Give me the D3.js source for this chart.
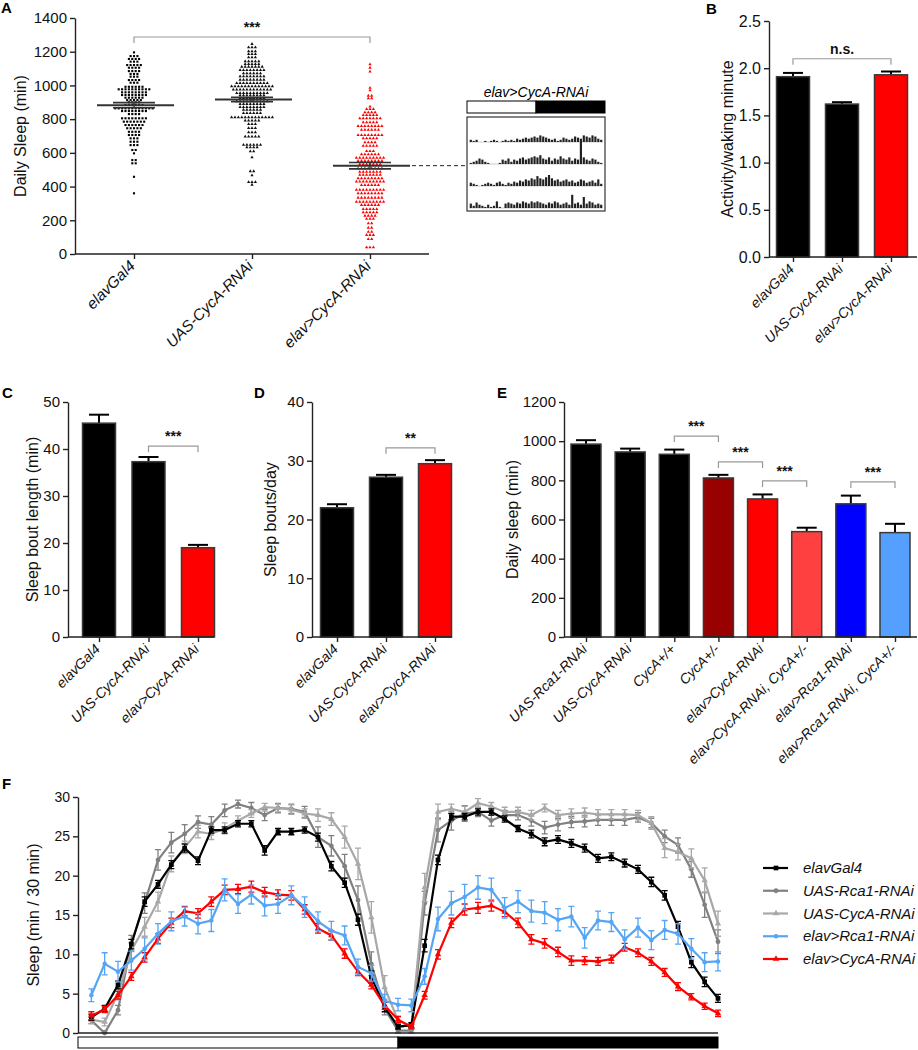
<!DOCTYPE html>
<html><head><meta charset="utf-8">
<script src="https://cdn.jsdelivr.net/npm/d3@7"></script>
<style>body{margin:0;background:#fff;} svg{display:block;font-family:"Liberation Sans",Arial,sans-serif;}</style>
</head><body><svg id="c" width="918" height="1050"></svg>
<script>
// ---------------- DATA ----------------
// Panel A: beeswarm rows [value (min), number of flies in row]
const aCats = ["elavGal4", "UAS-CycA-RNAi", "elav>CycA-RNAi"];
const aRowsElav = [[1196,1],[1174,3],[1157,4],[1141,3],[1121,5],[1105,4],[1085,4],[1068,3],[1052,3],[1032,4],[1016,3],[992,6],[977,10],[959,8],[943,8],[927,6],[913,5],[900,4],[884,6],[864,12],[848,8],[830,4],[805,8],[785,7],[765,6],[746,5],[725,4],[706,4],[686,3],[666,3],[646,3],[617,2],[597,1],[557,2],[538,2],[458,1],[360,1]];
const aRowsUas = [[1246,1],[1226,3],[1202,3],[1186,3],[1167,3],[1143,5],[1127,5],[1111,7],[1091,8],[1072,6],[1054,8],[1034,8],[1014,10],[995,13],[975,12],[955,10],[941,8],[925,8],[906,10],[890,8],[872,8],[856,6],[836,6],[811,13],[791,5],[771,3],[747,3],[722,3],[696,5],[648,6],[633,4],[609,2],[574,1],[491,2],[467,1],[427,3],[411,1]];
const aRowsKd = [[1125,1],[1105,1],[1082,1],[986,1],[971,1],[939,2],[923,2],[874,1],[860,3],[840,4],[824,5],[805,7],[781,5],[759,8],[736,6],[706,8],[686,5],[662,4],[642,5],[611,3],[591,6],[571,9],[552,8],[532,7],[508,8],[488,7],[469,7],[449,8],[429,9],[409,6],[380,9],[360,8],[334,8],[310,9],[291,6],[267,5],[247,5],[227,4],[208,3],[182,2],[156,2],[132,2],[113,3],[89,2],[40,3]];
const aMeans = [883, 917, 524];
const aSem = [15, 13, 19];
const aTicks = [0,200,400,600,800,1000,1200,1400];

// Inset actogram (elav>CycA-RNAi), 4 days, activity per bin
const actoDay1 = [2,1,2,0,0,1,0,1,2,1,0,1,2,1,2,1,3,2,3,4,3,4,5,4,6,5,4,3,2,3,1,2,4,3,2,3,5,4,3,6,5,4,6,5,3,2];
const actoDay2 = [1,2,3,5,4,2,1,0,0,0,1,4,3,5,2,4,3,5,6,4,5,6,7,6,8,5,4,6,3,5,4,7,5,4,6,3,5,4,20,6,4,3,5,4,2,1];
const actoDay3 = [3,2,1,0,1,2,3,2,1,3,4,2,1,3,2,4,3,5,4,6,5,7,6,9,7,6,8,10,7,5,6,4,5,6,4,5,3,4,6,5,3,4,5,3,6,2];
const actoDay4 = [4,2,5,3,2,1,3,1,2,6,1,0,4,5,4,3,5,4,6,5,4,6,5,6,5,4,3,5,4,6,5,3,4,5,3,12,4,5,3,10,4,6,5,3,4,3];

// Panel B
const bCats = ["elavGal4", "UAS-CycA-RNAi", "elav>CycA-RNAi"];
const bVals = [1.91, 1.62, 1.93];
const bErrs = [0.04, 0.02, 0.035];
const bTicks = [0, 0.5, 1.0, 1.5, 2.0, 2.5];

// Panel C
const cCats = ["elavGal4", "UAS-CycA-RNAi", "elav>CycA-RNAi"];
const cVals = [45.5, 37.3, 19.0];
const cErrs = [1.8, 1.0, 0.6];
const cTicks = [0,10,20,30,40,50];

// Panel D
const dCats = ["elavGal4", "UAS-CycA-RNAi", "elav>CycA-RNAi"];
const dVals = [22.0, 27.2, 29.5];
const dErrs = [0.6, 0.4, 0.6];
const dTicks = [0,10,20,30,40];

// Panel E
const eCats = ["UAS-Rca1-RNAi", "UAS-CycA-RNAi", "CycA+/+", "CycA+/-", "elav>CycA-RNAi", "elav>CycA-RNAi, CycA+/-", "elav>Rca1-RNAi", "elav>Rca1-RNAi, CycA+/-"];
const eVals = [985, 945, 933, 812, 705, 538, 680, 533];
const eErrs = [20, 17, 24, 16, 23, 20, 42, 45];
const eColors = ["#000000","#000000","#000000","#990000","#ff0000","#ff4040","#0000ff","#55a0ff"];
const eTicks = [0,200,400,600,800,1000,1200];

// Panel F: sleep per 30 min bin (48 bins)
const fNames = ["elavGal4", "UAS-Rca1-RNAi", "UAS-CycA-RNAi", "elav>Rca1-RNAi", "elav>CycA-RNAi"];
const fElav = [2.0,3.1,6.1,11.3,16.7,18.9,21.4,23.5,21.9,25.8,25.8,26.6,26.6,23.2,25.6,25.6,25.8,24.9,21.2,19.1,14.4,7.1,3.3,0.8,
               1.0,11.1,22.0,27.5,27.5,28.1,28.1,27.2,26.0,25.3,24.3,24.6,24.1,23.5,22.2,22.4,21.6,20.8,19.2,17.5,13.5,9.0,6.5,4.4];
const fUasRca1 = [1.6,0.0,2.9,11.4,16.5,22.0,24.2,25.3,26.8,26.5,28.3,29.1,28.6,27.7,28.6,28.5,28.1,24.9,23.8,21.2,16.9,8.8,3.1,0.3,
                  0.3,16.5,25.8,27.0,27.9,28.1,27.0,27.7,27.7,27.0,26.1,26.5,26.8,26.9,27.1,27.1,27.1,27.4,26.7,25.0,23.9,20.8,16.3,11.6];
const fUasCycA = [1.7,1.4,5.0,10.5,13.5,16.7,21.5,23.6,25.6,25.3,26.0,27.0,27.9,28.7,28.6,28.4,27.9,27.7,27.2,24.9,21.5,14.7,5.8,1.6,
                  0.8,18.5,28.1,28.5,28.1,29.2,28.8,28.1,28.1,27.7,28.6,27.7,27.9,28.0,27.8,27.8,27.8,27.7,26.7,23.5,23.0,22.2,19.4,13.9];
const fKdRca1 = [4.8,8.8,7.8,9.2,10.7,12.6,14.2,14.8,13.9,14.3,18.2,16.4,17.6,16.2,16.4,17.5,16.0,14.2,13.0,12.4,8.4,7.6,4.1,3.6,
                 3.5,7.2,14.5,16.5,17.3,18.5,18.2,15.9,16.7,15.5,15.3,14.4,14.8,12.1,14.3,14.1,11.9,13.4,11.8,13.1,12.6,10.7,9.0,9.1];
const fKdCycA = [2.2,3.0,4.8,7.2,9.6,12.0,14.0,15.5,15.2,16.7,18.2,18.3,18.6,17.9,17.6,17.5,15.7,13.3,12.4,10.1,7.8,6.1,3.5,1.7,
                 0.8,4.8,10.0,14.0,15.7,15.9,16.2,15.4,14.0,11.9,11.4,10.3,9.2,9.2,9.1,9.4,10.9,10.2,9.1,7.7,5.9,4.6,3.4,2.5];
const fErrElav = [0.4,0.4,0.5,0.6,0.6,0.5,0.5,0.5,0.5,0.4,0.4,0.4,0.4,0.6,0.4,0.4,0.4,0.5,0.6,0.6,0.7,0.8,0.6,0.3,
                  0.3,0.8,0.6,0.4,0.4,0.4,0.4,0.4,0.4,0.5,0.5,0.5,0.5,0.5,0.5,0.5,0.5,0.5,0.6,0.6,0.7,0.7,0.6,0.5];
const fErrUasRca1 = [0.4,0.3,0.6,1.0,1.3,1.3,1.3,1.2,0.8,1.0,0.8,0.5,0.7,0.7,0.6,0.6,0.7,1.3,1.3,1.5,1.8,1.5,0.8,0.3,
                     0.3,1.5,1.5,1.2,1.0,0.6,0.7,0.6,0.6,0.7,0.8,0.8,0.7,0.7,0.7,0.7,0.7,0.6,0.6,0.8,0.9,1.0,1.6,1.5];
const fErrUasCycA = [0.5,0.5,0.8,1.0,1.2,1.2,1.0,0.8,0.8,0.7,0.7,0.6,0.5,0.5,0.5,0.6,0.6,0.8,0.8,1.4,2.0,2.0,1.5,0.5,
                     0.4,1.8,1.0,0.6,0.7,0.6,0.5,0.6,0.6,0.6,0.5,0.6,0.6,0.6,0.6,0.6,0.6,0.6,0.8,1.2,1.0,1.2,1.6,1.6];
const fErrKdRca1 = [0.8,1.4,1.3,1.2,1.4,1.3,1.2,1.2,1.3,1.4,1.4,1.2,1.2,1.3,1.2,1.2,1.3,1.2,1.2,1.2,1.0,1.0,0.8,0.8,
                    0.8,1.0,1.5,1.5,1.6,1.5,1.5,1.3,1.4,1.4,1.4,1.4,1.3,1.3,1.2,1.2,1.2,1.2,1.2,1.2,1.3,1.3,1.2,1.2];
const fErrKdCycA = [0.5,0.4,0.5,0.5,0.6,0.6,0.6,0.6,0.6,0.6,0.6,0.6,0.7,0.6,0.6,0.6,0.6,0.6,0.6,0.6,0.5,0.5,0.5,0.4,
                    0.3,0.5,0.6,0.6,0.7,0.7,0.7,0.6,0.6,0.6,0.6,0.6,0.6,0.5,0.5,0.5,0.5,0.5,0.5,0.5,0.5,0.4,0.4,0.4];
const fTicks = [0,5,10,15,20,25,30];
const fLightDark = [["light",0,24],["dark",24,48]];

// ---------------- DRAWING ----------------
const svg = d3.select("#c");
const AX = "#222";

function yAxis(g, scale, x, ticks, fmt, fs) {
  const a = g.append("g").attr("transform", `translate(${x},0)`)
    .call(d3.axisLeft(scale).tickValues(ticks).tickSize(5).tickSizeOuter(0).tickPadding(3).tickFormat(fmt));
  a.select(".domain").attr("stroke", AX).attr("stroke-width", 1.4);
  a.selectAll(".tick line").attr("stroke", AX).attr("stroke-width", 1.4);
  a.selectAll(".tick text").attr("font-size", fs).attr("fill", "#111")
    .attr("font-family", '"Liberation Sans",Arial,sans-serif');
  return a;
}
function xAxis(g, scale, y, x0, x1, fs, labelDy) {
  g.append("line").attr("x1", x0).attr("x2", x1).attr("y1", y).attr("y2", y)
    .attr("stroke", AX).attr("stroke-width", 1.4);
  const a = g.append("g").attr("transform", `translate(0,${y})`)
    .call(d3.axisBottom(scale).tickSize(5).tickFormat(""));
  a.select(".domain").remove();
  a.selectAll(".tick line").attr("stroke", AX).attr("stroke-width", 1.4);
  g.selectAll(null).data(scale.domain()).enter().append("text")
    .attr("transform", d => `translate(${scale(d) + 2},${y + labelDy}) rotate(-45)`)
    .attr("text-anchor", "end").attr("font-size", fs).attr("font-style", "italic").attr("fill", "#111")
    .text(d => d);
}
function yLabel(g, text, x, yc, fs) {
  g.append("text").attr("transform", `translate(${x},${yc}) rotate(-90)`)
    .attr("text-anchor", "middle").attr("dy", "0.35em").attr("font-size", fs).attr("fill", "#111").text(text);
}
function letter(t, x, y) {
  svg.append("text").attr("x", x).attr("y", y).attr("font-size", 15).attr("font-weight", "bold").text(t);
}
function bracket(g, x1, x2, y, label, fs) {
  g.append("path").attr("d", `M${x1},${y + 6}V${y}H${x2}V${y + 6}`)
    .attr("fill", "none").attr("stroke", "#999").attr("stroke-width", 1.2);
  g.append("text").attr("x", (x1 + x2) / 2).attr("y", y - 5).attr("text-anchor", "middle")
    .attr("font-size", fs).attr("font-weight", "bold").attr("fill", "#111").text(label);
}

// ---- Panel A ----
(function () {
  const g = svg.append("g");
  const y = d3.scaleLinear().domain([0, 1400]).range([254, 18]);
  const x = d3.scalePoint().domain(aCats).range([134, 370]);
  const groups = [aRowsElav, aRowsUas, aRowsKd];
  const cols = ["#000", "#111", "#ff0000"];
  const sym = [d3.symbolSquare, d3.symbolTriangle, d3.symbolTriangle];
  groups.forEach((rows, gi) => {
    const pts = [];
    rows.forEach(([v, n]) => { for (let j = 0; j < n; j++) pts.push({ v, off: (j - (n - 1) / 2) * 3.4 }); });
    g.selectAll(null).data(pts).enter().append("path")
      .attr("d", d3.symbol().type(sym[gi]).size(gi === 0 ? 4.5 : 4.5))
      .attr("transform", d => `translate(${x(aCats[gi]) + d.off},${y(d.v)})`)
      .attr("fill", cols[gi]);
  });
  // mean and SEM
  aCats.forEach((c, i) => {
    const cx = x(c);
    g.append("line").attr("x1", cx - 37).attr("x2", cx + 40).attr("y1", y(aMeans[i])).attr("y2", y(aMeans[i]))
      .attr("stroke", "#333").attr("stroke-width", 2);
    [aMeans[i] - aSem[i], aMeans[i] + aSem[i]].forEach(v => {
      g.append("line").attr("x1", cx - 21).attr("x2", cx + 21).attr("y1", y(v)).attr("y2", y(v))
        .attr("stroke", "#333").attr("stroke-width", 1.6);
    });
    g.append("line").attr("x1", cx).attr("x2", cx).attr("y1", y(aMeans[i] - aSem[i])).attr("y2", y(aMeans[i] + aSem[i]))
      .attr("stroke", "#333").attr("stroke-width", 1.4);
  });
  // dashed connector to inset
  g.append("line").attr("x1", x(aCats[2]) + 42).attr("x2", 466).attr("y1", y(aMeans[2])).attr("y2", y(aMeans[2]))
    .attr("stroke", "#222").attr("stroke-width", 1).attr("stroke-dasharray", "4,3");
  yAxis(g, y, 75, aTicks, d3.format("d"), 15);
  xAxis(g, x, 254, 75, 429, 15.5, 13);
  yLabel(g, "Daily Sleep (min)", 20, 136, 16);
  bracket(g, x(aCats[0]), x(aCats[2]), 37, "***", 14);

  // inset actogram
  const ig = svg.append("g");
  ig.append("text").attr("x", 536).attr("y", 97).attr("text-anchor", "middle").attr("font-size", 14)
    .attr("font-style", "italic").text("elav>CycA-RNAi");
  const lx = d3.scaleLinear().domain([0, 2]).range([467, 605]);
  [[0, 1, "#fff"], [1, 2, "#000"]].forEach(([a, b, f]) => {
    ig.append("rect").attr("x", lx(a)).attr("y", 101).attr("width", lx(b) - lx(a)).attr("height", 12)
      .attr("fill", f).attr("stroke", "#000").attr("stroke-width", 1);
  });
  ig.append("rect").attr("x", 467).attr("y", 117).attr("width", 138).attr("height", 94)
    .attr("fill", "none").attr("stroke", "#333").attr("stroke-width", 1.2);
  const days = [actoDay1, actoDay2, actoDay3, actoDay4];
  const rowY = d3.scalePoint().domain(d3.range(4)).range([142, 208]);
  const bx = d3.scaleBand().domain(d3.range(46)).range([469, 603]).padding(0.25);
  const hh = d3.scaleLinear().domain([0, 20]).range([0, 22]);
  days.forEach((arr, r) => {
    ig.append("line").attr("x1", 469).attr("x2", 603).attr("y1", rowY(r)).attr("y2", rowY(r))
      .attr("stroke", "#bbb").attr("stroke-width", 0.8);
    ig.selectAll(null).data(arr).enter().append("rect")
      .attr("x", (d, i) => bx(i)).attr("width", bx.bandwidth())
      .attr("y", d => rowY(r) - hh(d)).attr("height", d => hh(d)).attr("fill", "#222");
  });
})();

// ---- generic bar panel ----
function barPanel(o) {
  const g = svg.append("g");
  const y = d3.scaleLinear().domain(o.domain).range(o.yRange);
  const x = d3.scalePoint().domain(o.cats).range(o.centers);
  o.cats.forEach((c, i) => {
    const cx = x(c);
    g.append("line").attr("x1", cx).attr("x2", cx).attr("y1", y(o.vals[i])).attr("y2", y(o.vals[i] + o.errs[i]))
      .attr("stroke", "#000").attr("stroke-width", 2);
    g.append("line").attr("x1", cx - 10).attr("x2", cx + 10).attr("y1", y(o.vals[i] + o.errs[i])).attr("y2", y(o.vals[i] + o.errs[i]))
      .attr("stroke", "#000").attr("stroke-width", 2);
    g.append("rect").attr("x", cx - o.bw / 2).attr("width", o.bw)
      .attr("y", y(o.vals[i])).attr("height", y(0) - y(o.vals[i]))
      .attr("fill", o.colors[i]).attr("stroke", "#3a3a3a").attr("stroke-width", 1.5);
  });
  yAxis(g, y, o.axisX, o.ticks, o.fmt, o.fs);
  xAxis(g, x, o.yRange[0], o.axisX, o.axisEnd, o.lfs, 13);
  yLabel(g, o.ylabel, o.ylx, (o.yRange[0] + o.yRange[1]) / 2, o.yfs);
  (o.brackets || []).forEach(b => bracket(g, x(o.cats[b[0]]), x(o.cats[b[1]]), y(b[2]), b[3], 14));
}

barPanel({ cats: bCats, vals: bVals, errs: bErrs, colors: ["#000", "#000", "#ff0000"], domain: [0, 2.5], yRange: [257, 21],
  centers: [793, 891], bw: 33, axisX: 769, axisEnd: 917, ticks: bTicks, fmt: d3.format(".1f"), fs: 16, lfs: 14,
  ylabel: "Activity/waking minute", ylx: 727, yfs: 16, brackets: [[0, 2, 2.10, "n.s."]] });
barPanel({ cats: cCats, vals: cVals, errs: cErrs, colors: ["#000", "#000", "#ff0000"], domain: [0, 50], yRange: [637, 402],
  centers: [99, 198], bw: 33, axisX: 68, axisEnd: 214, ticks: cTicks, fmt: d3.format("d"), fs: 15, lfs: 14,
  ylabel: "Sleep bout length (min)", ylx: 32, yfs: 16, brackets: [[1, 2, 40.6, "***"]] });
barPanel({ cats: dCats, vals: dVals, errs: dErrs, colors: ["#000", "#000", "#ff0000"], domain: [0, 40], yRange: [637, 402],
  centers: [337, 435], bw: 33, axisX: 312, axisEnd: 452, ticks: dTicks, fmt: d3.format("d"), fs: 15, lfs: 14,
  ylabel: "Sleep bouts/day", ylx: 270, yfs: 16, brackets: [[1, 2, 32.2, "**"]] });
barPanel({ cats: eCats, vals: eVals, errs: eErrs, colors: eColors, domain: [0, 1200], yRange: [637, 402],
  centers: [586, 895], bw: 30, axisX: 564, axisEnd: 917, ticks: eTicks, fmt: d3.format("d"), fs: 15, lfs: 14,
  ylabel: "Daily sleep (min)", ylx: 512, yfs: 16,
  brackets: [[2, 3, 1026, "***"], [3, 4, 894, "***"], [4, 5, 797, "***"], [6, 7, 792, "***"]] });

// ---- Panel F ----
(function () {
  const g = svg.append("g");
  const x = d3.scaleLinear().domain([0, 48]).range([78, 718]);
  const y = d3.scaleLinear().domain([0, 30]).range([1033, 797]);
  const series = [
    { name: fNames[1], vals: fUasRca1, errs: fErrUasRca1, col: "#808080", sym: d3.symbolCircle, sz: 18 },
    { name: fNames[2], vals: fUasCycA, errs: fErrUasCycA, col: "#a8a8a8", sym: d3.symbolTriangle, sz: 18 },
    { name: fNames[0], vals: fElav, errs: fErrElav, col: "#000000", sym: d3.symbolSquare, sz: 22 },
    { name: fNames[4], vals: fKdCycA, errs: fErrKdCycA, col: "#ff0000", sym: d3.symbolTriangle, sz: 18 },
    { name: fNames[3], vals: fKdRca1, errs: fErrKdRca1, col: "#55a5f5", sym: d3.symbolCircle, sz: 16 }
  ];
  const line = d3.line().x((d, i) => x(i + 1)).y(d => y(d));
  series.forEach(s => {
    s.vals.forEach((v, i) => {
      const cx = x(i + 1), lo = y(Math.max(0, v - s.errs[i])), hi = y(v + s.errs[i]);
      g.append("path").attr("d", `M${cx},${lo}V${hi}M${cx - 3},${lo}H${cx + 3}M${cx - 3},${hi}H${cx + 3}`)
        .attr("stroke", s.col).attr("stroke-width", 1.3).attr("fill", "none");
    });
    g.append("path").datum(s.vals).attr("d", line).attr("fill", "none").attr("stroke", s.col).attr("stroke-width", 2.2);
    g.selectAll(null).data(s.vals).enter().append("path")
      .attr("d", d3.symbol().type(s.sym).size(s.sz))
      .attr("transform", (d, i) => `translate(${x(i + 1)},${y(d)})`).attr("fill", s.col);
  });
  yAxis(g, y, 78, fTicks, d3.format("d"), 14);
  g.append("line").attr("x1", 78).attr("x2", 718).attr("y1", 1033).attr("y2", 1033).attr("stroke", AX).attr("stroke-width", 1.4);
  fLightDark.forEach(([k, a, b]) => {
    g.append("rect").attr("x", x(a)).attr("y", 1037).attr("width", x(b) - x(a)).attr("height", 11)
      .attr("fill", k === "light" ? "#fff" : "#000").attr("stroke", "#000").attr("stroke-width", 1);
  });
  yLabel(g, "Sleep (min / 30 min)", 33, 915, 16);
  // legend
  const order = [series[2], series[0], series[1], series[4], series[3]];
  const ly = d3.scalePoint().domain(d3.range(5)).range([868, 959]);
  order.forEach((s, i) => {
    const yy = ly(i);
    g.append("line").attr("x1", 763).attr("x2", 788).attr("y1", yy).attr("y2", yy).attr("stroke", s.col).attr("stroke-width", 2.2);
    g.append("path").attr("d", d3.symbol().type(s.sym).size(s.sz)).attr("transform", `translate(776,${yy})`).attr("fill", s.col);
    g.append("text").attr("x", 803).attr("y", yy + 5).attr("font-size", 15).attr("font-style", "italic").attr("fill", "#111").text(s.name);
  });
})();

letter("A", 1, 13); letter("B", 706, 14); letter("C", 2, 398); letter("D", 254, 398); letter("E", 497, 398); letter("F", 2, 789);
</script></body></html>
